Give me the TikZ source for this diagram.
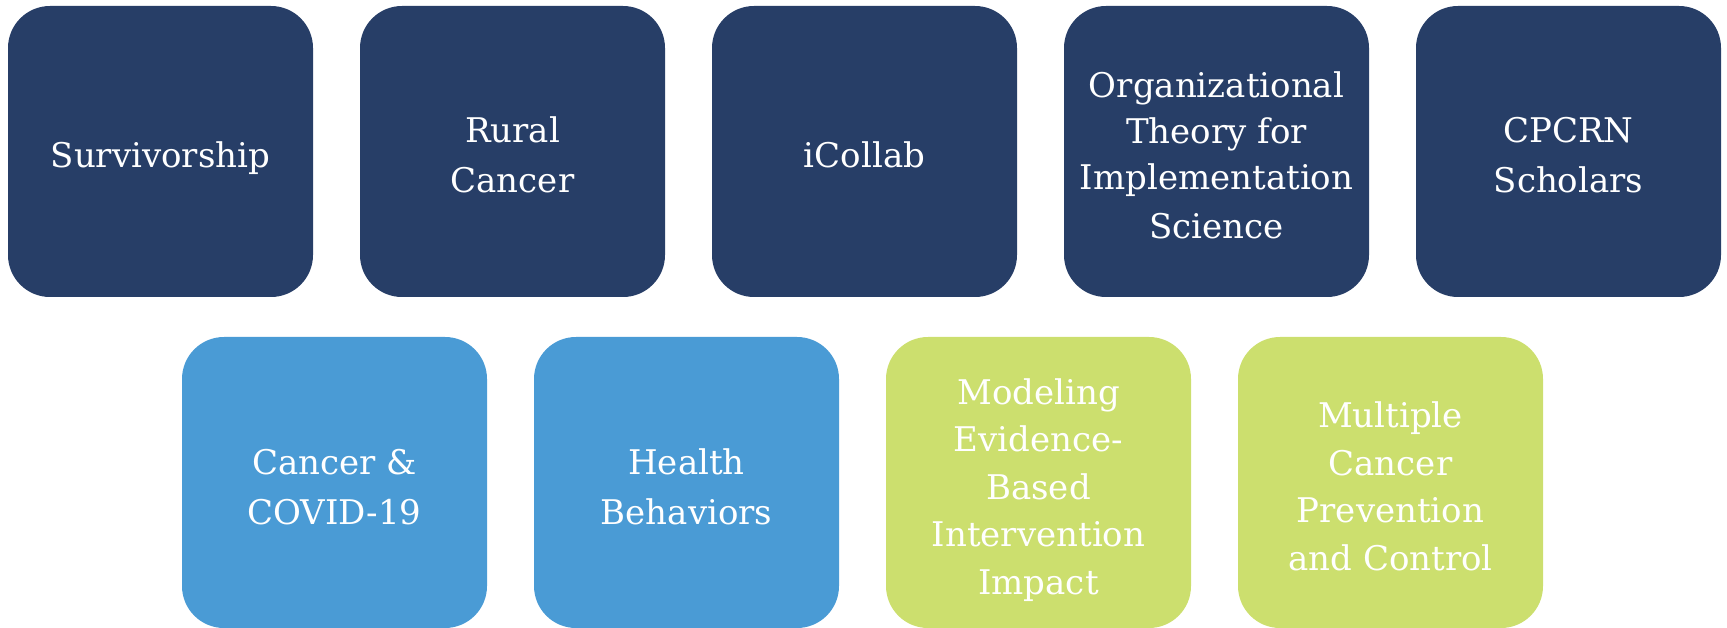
\documentclass[tikz,border=0pt]{standalone}
\usepackage{fontspec}
\setmainfont{DejaVu Serif}
\definecolor{navy}{RGB}{39,62,103}
\definecolor{skyb}{RGB}{74,155,213}
\definecolor{lime}{RGB}{204,223,110}
\newcommand\tiletext[1]{\rule[-8pt]{0pt}{49pt}#1\rule[-8pt]{0pt}{49pt}}
\tikzset{
  tile/.style={rectangle, rounded corners=42pt, minimum width=305pt, minimum height=291pt,
    inner sep=0pt, align=center, text=white},
  navytile/.style={tile, fill=navy, font=\fontsize{34}{46}\selectfont},
  bluetile/.style={tile, fill=skyb, font=\fontsize{34}{47.5}\selectfont},
  limetile/.style={tile, fill=lime, font=\fontsize{34}{47.5}\selectfont},
}
\begin{document}
\begin{tikzpicture}[x=1pt,y=1pt]
\useasboundingbox (0,0) rectangle (1727,-628);
\node[navytile] (n1) at (160.5,-151.5) {\tiletext{Survivorship}};
\node[navytile] (n2) at (512.5,-151.5) {\tiletext{Rural\\Cancer}};
\node[navytile] (n3) at (864.5,-151.5) {\tiletext{iCollab}};
\node[navytile] (n4) at (1216.5,-151.5) {\tiletext{Organizational\\Theory for\\Implementation\\Science}};
\node[navytile] (n5) at (1568.5,-151.5) {\tiletext{CPCRN\\Scholars}};
\node[bluetile] (n6) at (334.5,-482.5) {\tiletext{Cancer \&\\COVID-19}};
\node[bluetile] (n7) at (686.5,-482.5) {\tiletext{Health\\Behaviors}};
\node[limetile] (n8) at (1038.5,-482.5) {\tiletext{Modeling\\Evidence-\\Based\\Intervention\\Impact}};
\node[limetile] (n9) at (1390.5,-482.5) {\tiletext{Multiple\\Cancer\\Prevention\\and Control}};
\end{tikzpicture}
\end{document}
